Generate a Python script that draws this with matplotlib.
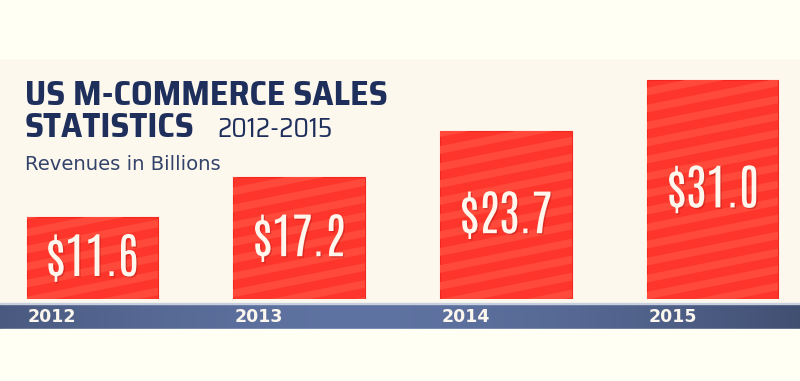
import matplotlib
matplotlib.use('Agg')
import matplotlib.pyplot as plt
import matplotlib.transforms as mtransforms
from matplotlib.lines import Line2D
from matplotlib import patheffects
import numpy as np

# Data
years = ['2012', '2013', '2014', '2015']
revenues = [11.6, 17.2, 23.7, 31.0]

title_line1 = 'US M-COMMERCE SALES'
title_bold2 = 'STATISTICS'
title_range = '2012-2015'
subtitle = 'Revenues in Billions'

# Condensed fonts when present, DejaVu otherwise (sizes get fitted to widths below)
title_font = ['Saira SemiCondensed', 'Oswald', 'Liberation Sans', 'DejaVu Sans']
value_font = ['Antonio', 'Oswald', 'Liberation Sans', 'DejaVu Sans']

# Figure in pixels: 800 x 381
W, H = 800, 381
fig = plt.figure(figsize=(W / 100, H / 100), dpi=100, facecolor='#fdf8ee')
px = mtransforms.Affine2D().scale(1 / W, -1 / H).translate(0, 1) + fig.transFigure  # pixel coords, top-left origin

fig.patches.append(plt.Rectangle((0, 0), W, 58, transform=px, color='#fffff3', zorder=0))
fig.patches.append(plt.Rectangle((0, 329), W, H - 329, transform=px, color='#fffff3', zorder=0))

# Main bar axes: zero line at pixel y=299, 207 px between bars
spacing = 207.0
px_per_unit = 7.07
ax = fig.add_axes([0, (H - 299) / H, 1, 299 / H])
ax.set_xlim(-92 / spacing, (W - 92) / spacing)
ax.set_ylim(0, 299 / px_per_unit)
ax.axis('off')
ax.patch.set_alpha(0)

x = np.arange(len(years))
bar_w = 131 / spacing
bars = ax.bar(x, revenues, width=bar_w, color='#fd352b', edgecolor='#f0281f', linewidth=0.8, zorder=2)

# Diagonal stripe texture clipped to each bar
for b in bars:
    for k in range(-10, 60):
        y0 = k * 17
        ln = Line2D([0, W], [y0, y0 - W * 0.2], color='#ff4a3b', lw=5.5, solid_capstyle='butt',
                    transform=px, zorder=3)
        ax.add_line(ln)
        ln.set_clip_path(b)

renderer = fig.canvas.get_renderer()


def fit(t, width_px):
    w = t.get_window_extent(renderer).width
    t.set_fontsize(t.get_fontsize() * width_px / w)


# Value labels
labels = []
for xi, v in zip(x, revenues):
    t = ax.text(xi, v / 2, f'${v:.1f}', ha='center', va='center', fontsize=30, color='#fff6ee',
                family=value_font, zorder=5,
                path_effects=[patheffects.withSimplePatchShadow(offset=(1, -1), shadow_rgbFace='#a01010',
                                                                alpha=0.35)])
    labels.append(t)
fit(labels[2], 92)
for t in labels:
    t.set_fontsize(labels[2].get_fontsize())

# Axis band with horizontal gradient
band = fig.add_axes([0, (H - 329) / H, 1, 25 / H])
grad = np.linspace(0, 1, 400)
prof = np.clip(1 - np.abs(grad - 0.45) ** 1.6 * 2.2, 0, 1)
c_dark = np.array([0x3c, 0x49, 0x69]) / 255
c_light = np.array([0x5f, 0x73, 0xa2]) / 255
img = c_dark[None, None, :] + (c_light - c_dark)[None, None, :] * prof[None, :, None]
band.imshow(img, aspect='auto', extent=[0, 1, 0, 1])
band.set_xlim(0, 1)
band.set_ylim(0, 1)
band.axis('off')
fig.patches.append(plt.Rectangle((0, 302.5), W, 1.5, transform=px, color='#c8d0e0', zorder=1))

# Year labels, left aligned with bar edges
ylabels = []
for xi, yr in zip(x, years):
    left = (xi - bar_w / 2) * spacing + 92
    t = fig.text(left + 1, 317, yr, transform=px, ha='left', va='center', fontsize=13,
                 fontweight='bold', color='#fbf6ee', family='DejaVu Sans')
    ylabels.append(t)
fit(ylabels[0], 48)
for t in ylabels:
    t.set_fontsize(ylabels[0].get_fontsize())

# Title
navy = '#1f2f5c'
t1 = fig.text(25, 105, title_line1, transform=px, ha='left', va='baseline', fontsize=25,
              fontweight='bold', color=navy, family=title_font)
fit(t1, 363)
t2 = fig.text(25, 137, title_bold2, transform=px, ha='left', va='baseline', fontsize=t1.get_fontsize(),
              fontweight='bold', color=navy, family=title_font)
t3 = fig.text(217, 137, title_range, transform=px, ha='left', va='baseline', fontsize=24,
              color=navy, family=title_font)
fit(t3, 116)
t4 = fig.text(25, 170, subtitle, transform=px, ha='left', va='baseline', fontsize=13.5,
              color='#34436a', family='DejaVu Sans')
fit(t4, 196)

fig.savefig('out.png', dpi=100, facecolor=fig.get_facecolor())
